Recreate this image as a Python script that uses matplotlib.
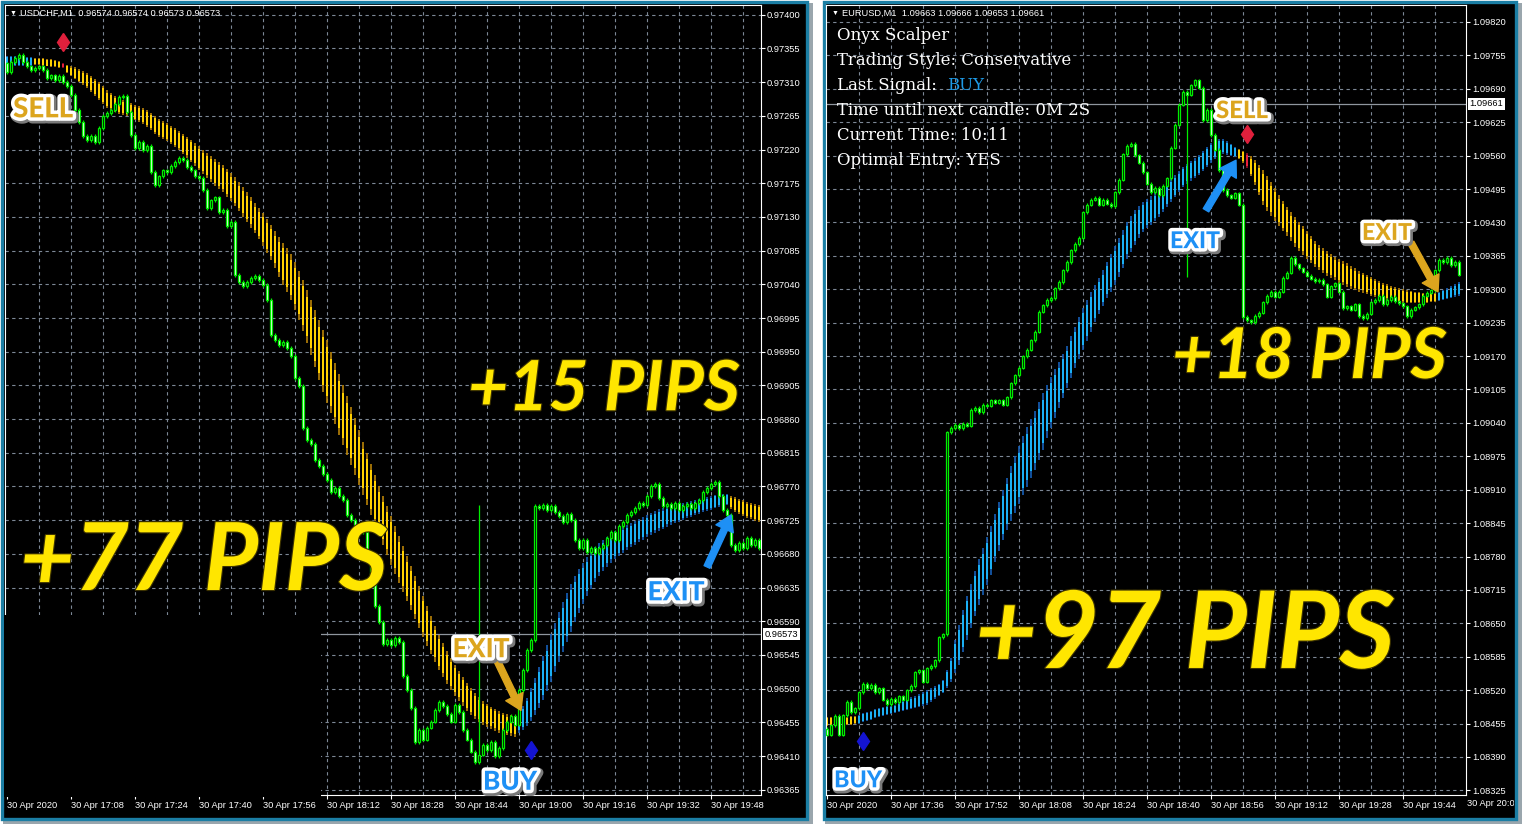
import numpy as np
import matplotlib
matplotlib.use("Agg")
import matplotlib.pyplot as plt
import matplotlib.patheffects as pe
from matplotlib.patches import Rectangle
from matplotlib.transforms import Bbox, TransformedBbox, blended_transform_factory
from matplotlib import font_manager as fm

# ---------------------------------------------------------------
#  Onyx Scalper: USDCHF M1 (left) and EURUSD M1 (right), 30 Apr 2020
#  prices are stored in points (1e-5) above a base price
# ---------------------------------------------------------------
PT = 1e-5
LEFT_BASE = 0.96000
RIGHT_BASE = 1.08000

# ---- USDCHF,M1 ------------------------------------------------
LEFT_FIRST_OPEN = 1335
LEFT_CLOSE = [
    1323, 1337, 1342, 1346, 1337, 1331, 1326, 1329, 1331, 1326,
    1315, 1319, 1313, 1318, 1310, 1305, 1293, 1273, 1257, 1238,
    1233, 1238, 1230, 1249, 1265, 1269, 1273, 1281, 1290, 1291,
    1270, 1239, 1222, 1230, 1219, 1225, 1190, 1172, 1184, 1192,
    1190, 1198, 1203, 1209, 1206, 1197, 1192, 1184, 1182, 1166,
    1142, 1152, 1156, 1136, 1139, 1118, 1123, 1052, 1043, 1038,
    1043, 1048, 1051, 1046, 1039, 1019, 972, 966, 959, 963,
    955, 944, 915, 904, 848, 832, 827, 805, 797, 787,
    779, 763, 768, 757, 752, 732, 725, 717, 712, 709,
    672, 645, 610, 589, 560, 565, 558, 568, 562, 517,
    498, 474, 429, 445, 432, 448, 456, 472, 482, 477,
    466, 456, 478, 469, 445, 432, 416, 402, 412, 425,
    418, 429, 410, 421, 445, 456, 464, 452, 498, 525,
    552, 565, 744, 741, 745, 739, 744, 736, 731, 723,
    733, 725, 699, 688, 699, 683, 688, 681, 688, 692,
    701, 709, 699, 717, 723, 732, 736, 741, 748, 745,
    757, 771, 773, 755, 744, 747, 741, 748, 739, 744,
    747, 741, 748, 752, 763, 768, 773, 776, 757, 739,
    732, 692, 685, 695, 688, 701, 692, 699, 688,
]
LEFT_HIGH_SPIKES = [(118, 745)]
LEFT_BAND_HI = [
    1345, 1345, 1345, 1345, 1345, 1343, 1343, 1342, 1342, 1342,
    1341, 1341, 1339, 1338, 1335, 1333, 1331, 1330, 1327, 1325,
    1322, 1318, 1314, 1310, 1305, 1299, 1295, 1291, 1289, 1286,
    1285, 1282, 1279, 1278, 1275, 1273, 1269, 1265, 1261, 1258,
    1255, 1251, 1249, 1245, 1241, 1237, 1233, 1229, 1225, 1219,
    1215, 1211, 1207, 1203, 1199, 1194, 1188, 1183, 1176, 1170,
    1163, 1156, 1148, 1142, 1135, 1127, 1119, 1111, 1103, 1095,
    1088, 1080, 1070, 1058, 1046, 1032, 1019, 1006, 992, 979,
    966, 950, 935, 920, 905, 891, 876, 861, 845, 829,
    815, 800, 785, 771, 757, 744, 731, 717, 704, 691,
    677, 664, 650, 637, 624, 610, 597, 584, 572, 561,
    550, 541, 532, 524, 516, 508, 501, 494, 489, 484,
    480, 476, 473, 470, 468, 466, 465, 464, 469, 477,
    488, 501, 514, 529, 544, 558, 573, 588, 602, 616,
    628, 640, 650, 660, 668, 676, 683, 689, 695, 699,
    703, 707, 711, 713, 716, 719, 721, 724, 727, 729,
    732, 735, 737, 740, 741, 743, 744, 745, 747, 748,
    749, 751, 752, 753, 755, 756, 757, 759, 759, 760,
    760, 757, 756, 753, 752, 749, 748, 747, 745,
]
LEFT_BAND_LO = [
    1331, 1331, 1331, 1331, 1331, 1331, 1331, 1333, 1333, 1331,
    1331, 1330, 1330, 1329, 1329, 1322, 1318, 1314, 1310, 1306,
    1302, 1297, 1291, 1286, 1281, 1275, 1273, 1270, 1267, 1266,
    1265, 1262, 1259, 1257, 1254, 1250, 1246, 1241, 1237, 1234,
    1231, 1227, 1223, 1219, 1214, 1209, 1203, 1198, 1192, 1187,
    1182, 1176, 1171, 1167, 1163, 1156, 1151, 1144, 1138, 1130,
    1123, 1115, 1108, 1100, 1091, 1082, 1072, 1062, 1050, 1039,
    1030, 1019, 1006, 992, 978, 962, 946, 929, 912, 896,
    881, 868, 853, 839, 825, 812, 799, 785, 772, 759,
    745, 732, 719, 705, 692, 679, 665, 653, 641, 629,
    617, 605, 593, 581, 569, 557, 546, 536, 525, 516,
    506, 498, 490, 484, 477, 470, 465, 460, 456, 452,
    449, 446, 444, 441, 440, 438, 437, 436, 441, 445,
    450, 457, 465, 474, 485, 497, 509, 522, 536, 549,
    562, 576, 589, 601, 613, 624, 633, 642, 650, 657,
    663, 668, 673, 677, 681, 685, 689, 692, 696, 699,
    703, 705, 708, 711, 713, 716, 719, 721, 723, 725,
    728, 729, 732, 733, 736, 737, 739, 741, 743, 744,
    745, 740, 736, 733, 731, 728, 727, 724, 723,
]
LEFT_TREND = [(0, 6, "up"), (7, 127, "down"), (128, 180, "up"), (181, 188, "down")]
LEFT_SIGNAL_BAR = [14]
LEFT_SELL = (14, 1363)
LEFT_BUY = (131, 418)
LEFT_LAST = 573
LEFT_YTICKS = list(range(365, 1401, 45))
LEFT_XTICKS = list(range(0, 177, 16))
LEFT_XLABELS = ["30 Apr 2020", "30 Apr 17:08", "30 Apr 17:24", "30 Apr 17:40",
                "30 Apr 17:56", "30 Apr 18:12", "30 Apr 18:28", "30 Apr 18:44",
                "30 Apr 19:00", "30 Apr 19:16", "30 Apr 19:32", "30 Apr 19:48"]
LEFT_HEADER = "USDCHF,M1  0.96574 0.96574 0.96573 0.96573"

# ---- EURUSD,M1 ------------------------------------------------
RIGHT_FIRST_OPEN = 445
RIGHT_CLOSE = [
    433, 452, 470, 433, 471, 497, 477, 485, 516, 532,
    524, 530, 516, 524, 501, 493, 503, 497, 508, 501,
    520, 528, 555, 559, 536, 563, 567, 578, 623, 629,
    1022, 1030, 1036, 1030, 1038, 1034, 1065, 1069, 1061, 1075,
    1073, 1084, 1079, 1084, 1075, 1090, 1117, 1133, 1147, 1170,
    1182, 1201, 1217, 1256, 1269, 1279, 1283, 1302, 1314, 1337,
    1353, 1376, 1388, 1400, 1450, 1464, 1474, 1478, 1464, 1474,
    1466, 1462, 1489, 1513, 1563, 1579, 1583, 1561, 1546, 1528,
    1505, 1489, 1497, 1483, 1501, 1516, 1575, 1620, 1659, 1684,
    1678, 1697, 1707, 1692, 1629, 1649, 1600, 1571, 1532, 1493,
    1483, 1478, 1487, 1464, 1246, 1240, 1236, 1248, 1254, 1275,
    1287, 1295, 1285, 1295, 1322, 1332, 1361, 1349, 1341, 1334,
    1326, 1320, 1316, 1318, 1310, 1285, 1306, 1312, 1295, 1263,
    1267, 1260, 1271, 1248, 1244, 1252, 1275, 1279, 1287, 1271,
    1279, 1285, 1277, 1273, 1267, 1248, 1260, 1265, 1271, 1287,
    1293, 1298, 1337, 1357, 1353, 1361, 1347, 1353, 1328,
]
RIGHT_LOW_SPIKES = [(90, 1324)]
RIGHT_BAND_HI = [
    467, 467, 467, 467, 467, 467, 469, 469, 471, 475,
    477, 479, 483, 485, 487, 489, 489, 491, 495, 499,
    503, 506, 508, 512, 516, 520, 524, 528, 532, 540,
    559, 582, 617, 647, 676, 703, 726, 752, 775, 796,
    818, 839, 863, 886, 909, 933, 956, 975, 995, 1014,
    1032, 1047, 1063, 1081, 1098, 1114, 1129, 1145, 1158, 1174,
    1190, 1209, 1226, 1246, 1263, 1279, 1295, 1308, 1322, 1337,
    1353, 1369, 1384, 1400, 1415, 1431, 1442, 1454, 1462, 1470,
    1476, 1481, 1487, 1493, 1499, 1507, 1515, 1522, 1530, 1538,
    1544, 1550, 1555, 1561, 1569, 1577, 1585, 1590, 1592, 1592,
    1588, 1583, 1577, 1573, 1569, 1565, 1559, 1551, 1542, 1532,
    1520, 1509, 1497, 1483, 1472, 1460, 1450, 1441, 1431, 1423,
    1413, 1404, 1394, 1386, 1380, 1374, 1369, 1363, 1359, 1355,
    1351, 1345, 1341, 1335, 1332, 1328, 1324, 1320, 1316, 1312,
    1310, 1306, 1304, 1302, 1300, 1298, 1297, 1295, 1295, 1293,
    1293, 1293, 1293, 1295, 1298, 1302, 1306, 1310, 1314,
]
RIGHT_BAND_LO = [
    450, 450, 450, 450, 452, 452, 452, 454, 454, 458,
    460, 462, 466, 467, 469, 471, 473, 475, 477, 479,
    481, 483, 485, 487, 489, 491, 497, 503, 508, 514,
    524, 536, 553, 569, 594, 617, 641, 664, 686, 705,
    724, 744, 769, 791, 812, 831, 849, 865, 882, 900,
    915, 933, 948, 968, 987, 1011, 1030, 1049, 1069, 1088,
    1108, 1127, 1147, 1164, 1182, 1199, 1217, 1236, 1252, 1267,
    1283, 1295, 1308, 1324, 1341, 1359, 1372, 1386, 1400, 1411,
    1419, 1425, 1433, 1441, 1450, 1460, 1470, 1479, 1489, 1499,
    1505, 1511, 1516, 1522, 1530, 1538, 1546, 1553, 1559, 1563,
    1561, 1559, 1557, 1553, 1546, 1536, 1520, 1503, 1483, 1464,
    1452, 1442, 1433, 1423, 1413, 1404, 1394, 1382, 1374, 1367,
    1359, 1351, 1343, 1337, 1332, 1326, 1322, 1318, 1312, 1308,
    1304, 1300, 1298, 1295, 1293, 1291, 1287, 1285, 1283, 1281,
    1279, 1277, 1275, 1273, 1273, 1273, 1273, 1273, 1273, 1273,
    1273, 1275, 1275, 1277, 1279, 1281, 1283, 1285, 1287,
]
RIGHT_TREND = [(0, 7, "down"), (8, 102, "up"), (103, 152, "down"), (153, 158, "up")]
RIGHT_SIGNAL_BAR = [105]
RIGHT_SELL = (105, 1602)
RIGHT_BUY = (9, 421)
RIGHT_LAST = 1661
RIGHT_YTICKS = list(range(325, 1821, 65))
RIGHT_XTICKS = list(range(0, 145, 16))
RIGHT_XLABELS = ["30 Apr 2020", "30 Apr 17:36", "30 Apr 17:52", "30 Apr 18:08",
                 "30 Apr 18:24", "30 Apr 18:40", "30 Apr 18:56", "30 Apr 19:12",
                 "30 Apr 19:28", "30 Apr 19:44"]
RIGHT_HEADER = "EURUSD,M1  1.09663 1.09666 1.09653 1.09661"
INFO_LINES = ["Onyx Scalper", "Trading Style: Conservative", "Last Signal:",
              "Time until next candle: 0M 2S", "Current Time: 10:11",
              "Optimal Entry: YES"]

# ---- style ----------------------------------------------------
W, H = 1525, 824
TEAL = "#1b7ea4"
GREEN = "#00ee00"
GRID = "#7d8896"
GOLD = "#DCA51E"
BLUE = "#1E90F5"
PIPS = "#FFE600"
BAND_COLORS = {"down": ("#FFD000", "#B98408"),
               "up": ("#1BB0F4", "#1660B8"),
               "signal": ("#E8203C", "#9E1026")}

_names = {f.name for f in fm.fontManager.ttflist}
if "Liberation Sans Narrow" in _names:
    LETTER = "Liberation Sans Narrow"
elif "Lato" in _names:
    LETTER = "Lato"
else:
    LETTER = "Liberation Sans"
SERIF = ["DejaVu Serif", "Liberation Serif"]
plt.rcParams["font.family"] = ["Liberation Sans", "DejaVu Sans"]

fig = plt.figure(figsize=(W / 100, H / 100), dpi=100, facecolor="white")


def fig_rect(x0, y0, x1, y1, **kw):
    return Rectangle((x0 / W, 1 - y1 / H), (x1 - x0) / W, (y1 - y0) / H,
                     transform=fig.transFigure, **kw)


# panel frames with a soft shadow
for x0, x1 in [(0, 808), (822, 1517)]:
    fig.add_artist(fig_rect(x0 + 3, 3, x1 + 5, 824, fc="#9aa6ad", ec="none", zorder=-3))
    fig.add_artist(fig_rect(x0 + 1.5, 1.5, x1 - 1.5, 818.5, fc="black", ec=TEAL,
                            lw=2.4, zorder=-2))

axL = fig.add_axes([5 / W, 1 - 795 / H, 756 / W, 790 / H])
axR = fig.add_axes([826 / W, 1 - 795 / H, 640 / W, 790 / H])


def draw_candles(ax, base, first_open, closes, hi_spikes=(), lo_spikes=(), wick=2.5):
    c = base + np.asarray(closes, float) * PT
    o = np.r_[base + first_open * PT, c[:-1]]
    x = np.arange(len(c))
    top, bot = np.maximum(o, c), np.minimum(o, c)
    hi, lo = top + wick * PT, bot - wick * PT
    for i, v in hi_spikes:
        hi[i] = base + v * PT
    for i, v in lo_spikes:
        lo[i] = base + v * PT
    ax.vlines(x, lo, hi, color=GREEN, lw=0.9, zorder=3)
    h = np.maximum(top - bot, 0.3 * PT)
    up = c >= o
    ax.bar(x[up], h[up], bottom=bot[up], width=0.55, color="black",
           edgecolor=GREEN, lw=0.9, zorder=3.1)
    ax.bar(x[~up], h[~up], bottom=bot[~up], width=0.55, color="white",
           edgecolor=GREEN, lw=0.9, zorder=3.1)


def draw_band(ax, base, hi, lo, trend, signal_bars):
    hi = base + np.asarray(hi, float) * PT
    lo = base + np.asarray(lo, float) * PT
    n = len(hi)
    body_c, wick_c = [None] * n, [None] * n
    for a, b, kind in trend:
        for i in range(a, b + 1):
            body_c[i], wick_c[i] = BAND_COLORS[kind]
    for i in signal_bars:
        body_c[i], wick_c[i] = BAND_COLORS["signal"]
    x = np.arange(n)
    span = hi - lo
    ax.vlines(x, lo, hi, colors=wick_c, lw=1.2, zorder=2)
    ax.bar(x, span * 0.76, bottom=lo + span * 0.12, width=0.62, color=body_c,
           lw=0, zorder=2.1)


def style_axis(ax, base, nbars, xlim, ylim, yticks, xticks, xlabels, last):
    ax.set_facecolor("black")
    ax.set_xlim(*xlim)
    ax.set_ylim(base + ylim[0] * PT, base + ylim[1] * PT)
    for s in ax.spines.values():
        s.set_color("white")
        s.set_linewidth(0.8)
    ax.yaxis.tick_right()
    ax.set_yticks([base + v * PT for v in yticks])
    ax.set_yticklabels([f"{base + v * PT:.5f}" for v in yticks])
    ax.set_xticks(xticks)
    ax.set_xticklabels(xlabels)
    for lab in ax.get_xticklabels():
        lab.set_ha("left")
    ax.set_xticks(np.arange(8, nbars, 8), minor=True)
    ax.xaxis.remove_overlapping_locs = False
    ax.tick_params(which="major", colors="white", labelsize=6.7, length=3,
                   width=0.8, pad=1.2)
    ax.tick_params(which="minor", length=0)
    ax.set_axisbelow(True)
    ax.grid(which="minor", axis="x", color=GRID, ls=(0, (3, 3)), lw=0.8)
    ax.grid(which="major", axis="y", color=GRID, ls=(0, (3, 3)), lw=0.8)
    ax.axhline(base + last * PT, color="#8f969e", lw=0.9, zorder=1.5)
    ax.annotate(f"{base + last * PT:.5f}", xy=(1, base + last * PT),
                xycoords=("axes fraction", "data"), xytext=(2.5, 0),
                textcoords="offset points", ha="left", va="center",
                fontsize=6.7, color="black", annotation_clip=False,
                bbox=dict(boxstyle="square,pad=0.18", fc="white", ec="none"))


def diamond(ax, base, sig, color):
    ax.plot([sig[0]], [base + sig[1] * PT], ls="none", marker="d", ms=9.5,
            mfc=color, mec=color, zorder=6)


def tag(ax, base, bar, pts, text, color):
    return ax.text(bar, base + pts * PT, text, ha="center", va="baseline",
                   family=LETTER, weight=900, color=color, fontsize=20,
                   zorder=9,
                   path_effects=[pe.Stroke(linewidth=6.5, foreground="#7a7a7a",
                                           offset=(1.2, -1.2)),
                                 pe.Stroke(linewidth=5, foreground="white"),
                                 pe.Normal()])


def arrow(ax, base, bar, pts, dx, dy, color):
    ax.annotate("", xy=(bar, base + pts * PT), xytext=(dx, dy),
                textcoords="offset pixels", zorder=8,
                arrowprops=dict(arrowstyle="simple,head_length=1.0,head_width=1.25,tail_width=0.42",
                                mutation_scale=11, fc=color, ec=color,
                                shrinkA=0, shrinkB=0))


def big(ax, x, y, text):
    return ax.text(x, y, text, transform=ax.transAxes, ha="left", va="baseline",
                   family=LETTER, weight="bold", style="italic", color=PIPS,
                   fontsize=60, zorder=10,
                   path_effects=[pe.Stroke(linewidth=1.6, foreground="#3d3300"),
                                 pe.Normal()])


# ---- left: USDCHF ---------------------------------------------
nL = len(LEFT_CLOSE)
style_axis(axL, LEFT_BASE, nL, (-0.5, 188.5), (358, 1413), LEFT_YTICKS,
           LEFT_XTICKS, LEFT_XLABELS, LEFT_LAST)
draw_band(axL, LEFT_BASE, LEFT_BAND_HI, LEFT_BAND_LO, LEFT_TREND, LEFT_SIGNAL_BAR)
draw_candles(axL, LEFT_BASE, LEFT_FIRST_OPEN, LEFT_CLOSE, hi_spikes=LEFT_HIGH_SPIKES)
diamond(axL, LEFT_BASE, LEFT_SELL, "#E0203C")
diamond(axL, LEFT_BASE, LEFT_BUY, "#1414D2")
# empty lower-left corner of the terminal window
axL.add_patch(fig_rect(3.5, 615, 321, 797, fc="black", ec="none", zorder=3.5,
                       clip_on=False))

axL.text(0.0066, 0.9899, "\u25bc", transform=axL.transAxes, color="white",
         fontsize=5, va="center", ha="left")
axL.text(0.0205, 0.9899, LEFT_HEADER, transform=axL.transAxes, color="white",
         fontsize=6.7, va="center", ha="left")

fits = []
fits.append((tag(axL, LEFT_BASE, 9, 1263, "SELL", GOLD), 60))
fits.append((tag(axL, LEFT_BASE, 118.5, 542, "EXIT", GOLD), 57))
fits.append((tag(axL, LEFT_BASE, 125.75, 365, "BUY", BLUE), 54))
fits.append((tag(axL, LEFT_BASE, 167.25, 618, "EXIT", BLUE), 57))
arrow(axL, LEFT_BASE, 128.5, 471, -24, 50, GOLD)
arrow(axL, LEFT_BASE, 181, 732, -24, -52, BLUE)
fits.append((big(axL, 0.0198, 0.2595, "+77 PIPS"), 368))
fits.append((big(axL, 0.6124, 0.4870, "+15 PIPS"), 272))

# ---- right: EURUSD --------------------------------------------
nR = len(RIGHT_CLOSE)
style_axis(axR, RIGHT_BASE, nR, (-0.25, 159.75), (316, 1853), RIGHT_YTICKS,
           RIGHT_XTICKS, RIGHT_XLABELS, RIGHT_LAST)
draw_band(axR, RIGHT_BASE, RIGHT_BAND_HI, RIGHT_BAND_LO, RIGHT_TREND, RIGHT_SIGNAL_BAR)
draw_candles(axR, RIGHT_BASE, RIGHT_FIRST_OPEN, RIGHT_CLOSE, lo_spikes=RIGHT_LOW_SPIKES,
             wick=3)
diamond(axR, RIGHT_BASE, RIGHT_SELL, "#E0203C")
diamond(axR, RIGHT_BASE, RIGHT_BUY, "#1414D2")

# last time label is cut by the window edge
last_lab = axR.text(160, -0.0056, "30 Apr 20:00", color="white", fontsize=6.7,
                    ha="left", va="top",
                    transform=blended_transform_factory(axR.transData, axR.transAxes))
last_lab.set_clip_box(TransformedBbox(Bbox.from_extents(0, 0, 1514 / W, 1),
                                      fig.transFigure))
last_lab.set_clip_on(True)

axR.text(0.0094, 0.9899, "\u25bc", transform=axR.transAxes, color="white",
         fontsize=5, va="center", ha="left")
axR.text(0.0245, 0.9899, RIGHT_HEADER, transform=axR.transAxes, color="white",
         fontsize=6.7, va="center", ha="left")
info = []
for k, line in enumerate(INFO_LINES):
    yb = (795 - (40 + 25 * k)) / 790
    info.append(axR.text(0.0172, yb, line, transform=axR.transAxes, color="white",
                         family=SERIF, fontsize=12, va="baseline", ha="left",
                         zorder=11))
buy_txt = axR.text(0.189, (795 - 90) / 790, "BUY", transform=axR.transAxes,
                   color="#1E9BE8", family=SERIF, fontsize=12, va="baseline",
                   ha="left", zorder=11)

fits.append((tag(axR, RIGHT_BASE, 103.75, 1633, "SELL", GOLD), 52))
fits.append((tag(axR, RIGHT_BASE, 92, 1380, "EXIT", BLUE), 50))
fits.append((tag(axR, RIGHT_BASE, 140, 1396, "EXIT", GOLD), 50))
fits.append((tag(axR, RIGHT_BASE, 7.75, 331, "BUY", BLUE), 48))
arrow(axR, RIGHT_BASE, 102.25, 1551, -30, -50, BLUE)
arrow(axR, RIGHT_BASE, 152.75, 1295, -27, 49, GOLD)
fits.append((big(axR, 0.2328, 0.1608, "+97 PIPS"), 420))
fits.append((big(axR, 0.5406, 0.5278, "+18 PIPS"), 275))

# scale the overlay lettering to the widths seen in the screenshot
fig.canvas.draw()
renderer = fig.canvas.get_renderer()
for t, target in fits:
    cur = t.get_window_extent(renderer).width
    t.set_fontsize(t.get_fontsize() * target / cur)
# info block: "Trading Style: Conservative" spans about 232 px
scale = 232 / info[1].get_window_extent(renderer).width
for t in info + [buy_txt]:
    t.set_fontsize(t.get_fontsize() * scale)

fig.savefig("out.png", dpi=100, facecolor=fig.get_facecolor())
